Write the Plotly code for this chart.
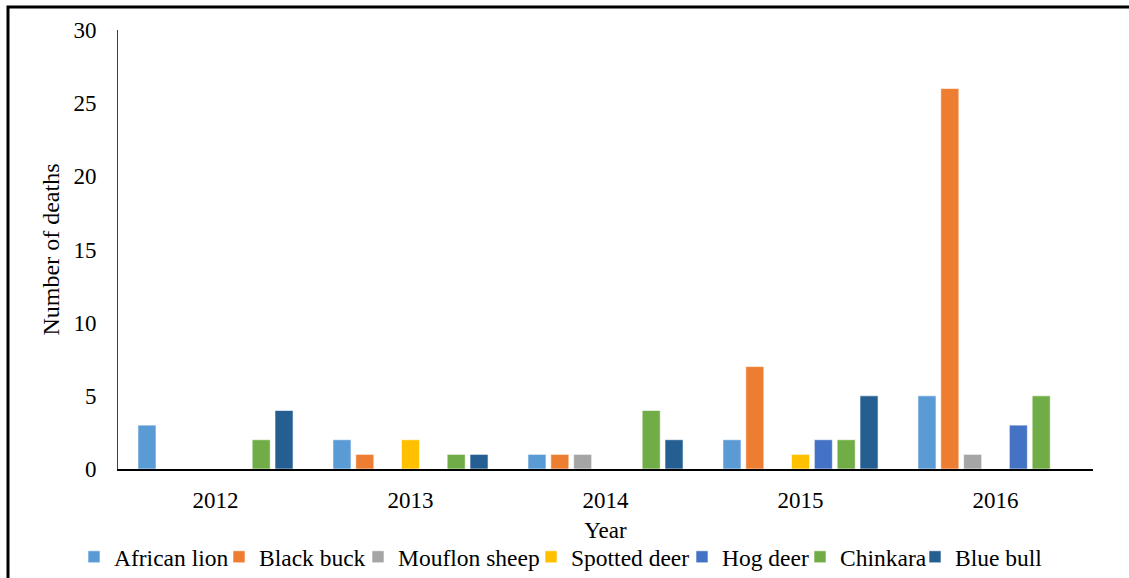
import plotly.graph_objects as go

years = ["2012", "2013", "2014", "2015", "2016"]
african_lion = [3, 2, 1, 2, 5]
black_buck = [0, 1, 1, 7, 26]
mouflon_sheep = [0, 0, 1, 0, 1]
spotted_deer = [0, 2, 0, 1, 0]
hog_deer = [0, 0, 0, 2, 3]
chinkara = [2, 1, 4, 2, 5]
blue_bull = [4, 1, 2, 5, 0]

series = [
    ("African lion", african_lion, "#5B9BD5"),
    ("Black buck", black_buck, "#ED7D31"),
    ("Mouflon sheep", mouflon_sheep, "#A5A5A5"),
    ("Spotted deer", spotted_deer, "#FFC000"),
    ("Hog deer", hog_deer, "#4472C4"),
    ("Chinkara", chinkara, "#70AD47"),
    ("Blue bull", blue_bull, "#255E91"),
]

# left edge (in pixels) of each legend entry's colour swatch along the bottom row
legend_swatch_px = [92, 237, 376, 549, 700, 818, 933]

FONT = "Liberation Serif"
W, H = 1129, 578
L, R, T, B = 118, 36, 30, 109
pw, ph = W - L - R, H - T - B


def px(x):
    return (x - L) / pw


def py(y):
    return (H - B - y) / ph


fig = go.Figure()
legend_layouts = {}
for i, (name, vals, color) in enumerate(series):
    key = "legend" if i == 0 else f"legend{i + 1}"
    fig.add_trace(go.Bar(
        x=years, y=vals, name=name, legend=key,
        marker=dict(color=color, line=dict(color="rgba(255,255,255,0.6)", width=1)),
    ))
    legend_layouts[key] = dict(
        orientation="h",
        x=px(legend_swatch_px[i] - 18), xanchor="left",
        y=py(557), yanchor="middle",
        font=dict(family=FONT, size=23.5, color="black"),
        itemwidth=30, itemclick=False, bgcolor="rgba(0,0,0,0)",
    )

fig.update_layout(
    width=W, height=H,
    margin=dict(l=L, r=R, t=T, b=B, autoexpand=False),
    paper_bgcolor="white", plot_bgcolor="white",
    font=dict(family=FONT, size=23, color="black"),
    barmode="group", bargap=0.18, bargroupgap=0.21,
    showlegend=True,
    xaxis=dict(
        showline=True, linecolor="black", linewidth=2, ticks="",
        showgrid=False, zeroline=False,
        tickfont=dict(family=FONT, size=23), ticklabelstandoff=9,
        title=dict(text="Year", font=dict(family=FONT, size=23), standoff=10),
    ),
    yaxis=dict(
        range=[0, 30], tickvals=[0, 5, 10, 15, 20, 25, 30],
        showline=True, linecolor="#404040", linewidth=1, ticks="",
        showgrid=False, zeroline=False,
        tickfont=dict(family=FONT, size=23), ticklabelstandoff=16,
        title=dict(text="Number of deaths", font=dict(family=FONT, size=24), standoff=7),
    ),
    shapes=[dict(
        type="rect", xref="paper", yref="paper",
        x0=px(8), x1=px(1140), y0=py(590), y1=py(7),
        line=dict(color="black", width=3), fillcolor="rgba(0,0,0,0)", layer="above",
    )],
    **legend_layouts,
)

fig.write_html("out.html")
